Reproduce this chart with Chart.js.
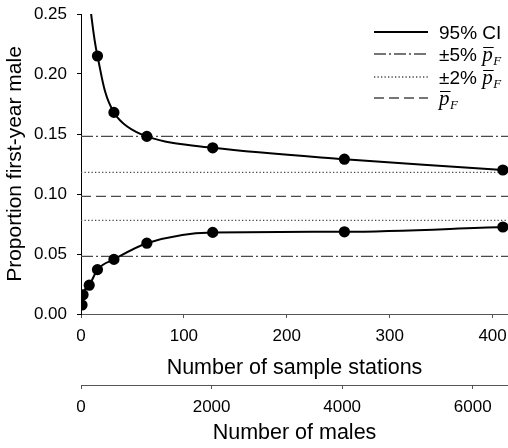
<!DOCTYPE html>
<html>
<head>
<meta charset="utf-8">
<script src="https://cdn.jsdelivr.net/npm/chart.js@4/dist/chart.umd.min.js"></script>
<style>
  html, body { margin: 0; padding: 0; background: #fff; }
  #wrap { width: 508px; height: 448px; }
</style>
</head>
<body>
<div id="wrap"><canvas id="c" width="508" height="448"></canvas></div>
<script>
// ---- data ----
const upperStations = [8, 16, 32, 64, 128, 256, 410];
const upperCI = [0.262, 0.215, 0.168, 0.148, 0.1385, 0.129, 0.120];
const lowerStations = [1, 2, 8, 16, 32, 64, 128, 256, 410];
const lowerCI = [0.0075, 0.016, 0.024, 0.037, 0.0455, 0.059, 0.068, 0.0685, 0.0725];
const meanP = 0.098;
const plus5Levels = [0.048, 0.148];
const plus2Levels = [0.078, 0.118];
const yTicks = [0, 0.05, 0.10, 0.15, 0.20, 0.25];
const stationTicks = [0, 100, 200, 300, 400];
const maleTicks = [0, 2000, 4000, 6000];
const legendPrefix = ['95% CI', '\u00b15% ', '\u00b12% ', ''];

const X_MAX = 415, X2_MAX = 6540;
const refColor = '#4a4a4a';

function toXY(xs, ys) { return xs.map((x, i) => ({ x: x, y: ys[i] })); }
function hline(y) { return [{ x: 0, y: y }, { x: X_MAX, y: y }]; }

const refStyle = { borderColor: refColor, borderWidth: 1.3, pointRadius: 0, fill: false, tension: 0 };
const ciStyle = {
  borderColor: '#000', borderWidth: 2, backgroundColor: '#000',
  pointBackgroundColor: '#000', pointBorderColor: '#000',
  pointRadius: ctx => (ctx.parsed && ctx.parsed.y > 0.25 ? 0 : 4.6),
  pointHoverRadius: 4.6,
  fill: false
};

const datasets = [
  Object.assign({ label: 'upper', data: toXY(upperStations, upperCI), tension: 0.35 }, ciStyle),
  Object.assign({ label: 'lower', data: toXY(lowerStations, lowerCI), cubicInterpolationMode: 'monotone' }, ciStyle),
  Object.assign({ label: 'mean', data: hline(meanP), borderDash: [10, 5] }, refStyle),
].concat(plus5Levels.map(v => Object.assign({ label: '5', data: hline(v), borderDash: [12, 3, 2, 3] }, refStyle)))
 .concat(plus2Levels.map(v => Object.assign({ label: '2', data: hline(v), borderDash: [1.3, 2.2] }, refStyle)));

const legendPlugin = {
  id: 'customLegend',
  afterDraw(chart) {
    const ctx = chart.ctx;
    const rows = [32, 54, 77, 98];
    const x0 = 374, x1 = 428, tx = 439;
    const dashes = [[], [12, 3, 2, 3], [1.3, 2.2], [10, 5]];
    ctx.save();
    rows.forEach((y, i) => {
      ctx.beginPath();
      ctx.setLineDash(dashes[i]);
      ctx.strokeStyle = i === 0 ? '#000' : refColor;
      ctx.lineWidth = i === 0 ? 2 : 1.3;
      ctx.moveTo(x0, y); ctx.lineTo(x1, y); ctx.stroke();
      ctx.setLineDash([]);
      ctx.fillStyle = '#000';
      ctx.textBaseline = 'alphabetic';
      ctx.font = '19px "Liberation Sans", Arial, sans-serif';
      const base = y + 7;
      let cx = tx;
      ctx.fillText(legendPrefix[i], cx, base);
      cx += ctx.measureText(legendPrefix[i]).width;
      if (i > 0) {
        ctx.font = 'italic 21px "Liberation Serif", "Times New Roman", serif';
        const pw = ctx.measureText('p').width;
        ctx.fillText('p', cx, base);
        ctx.beginPath();
        ctx.lineWidth = 1;
        ctx.strokeStyle = '#000';
        ctx.moveTo(cx + 1, base - 13.5); ctx.lineTo(cx + pw + 1, base - 13.5); ctx.stroke();
        cx += pw;
        ctx.font = 'italic 13px "Liberation Serif", "Times New Roman", serif';
        ctx.fillText('F', cx + 0.5, base + 4);
      }
    });
    ctx.restore();
  }
};

const tickFont = { family: '"Liberation Sans", Arial, sans-serif', size: 17 };
const titleFont = { family: '"Liberation Sans", Arial, sans-serif', size: 21.5 };
const yTitleFont = { family: '"Liberation Sans", Arial, sans-serif', size: 21 };

function fixH(h) {
  return s => { s.height = h; s.paddingLeft = 0; s.paddingRight = 0; };
}

new Chart(document.getElementById('c'), {
  type: 'line',
  data: { datasets: datasets },
  options: {
    responsive: false,
    animation: false,
    events: [],
    layout: { autoPadding: false, padding: { top: 14, right: 0, left: 0, bottom: 0 } },
    plugins: { legend: { display: false }, tooltip: { enabled: false } },
    scales: {
      x: {
        type: 'linear', position: 'bottom', weight: 0, min: 0, max: X_MAX,
        afterBuildTicks: s => { s.ticks = stationTicks.map(v => ({ value: v })); },
        afterFit: fixH(71),
        ticks: { font: tickFont, color: '#000', padding: 8, maxRotation: 0, callback: v => String(v) },
        grid: { drawOnChartArea: false, drawTicks: true, tickLength: 4, tickColor: '#555' },
        border: { display: true, color: '#555', width: 1 },
        title: { display: true, text: 'Number of sample stations', font: titleFont, color: '#000', padding: { top: 0, bottom: 4 } }
      },
      x2: {
        type: 'linear', position: 'bottom', weight: 1, min: 0, max: X2_MAX,
        afterBuildTicks: s => { s.ticks = maleTicks.map(v => ({ value: v })); },
        afterFit: fixH(63),
        ticks: { font: tickFont, color: '#000', padding: 8, maxRotation: 0, callback: v => String(v) },
        grid: { drawOnChartArea: false, drawTicks: true, tickLength: 4, tickColor: '#555' },
        border: { display: true, color: '#555', width: 1 },
        title: { display: true, text: 'Number of males', font: titleFont, color: '#000', padding: { top: 0, bottom: 2 } }
      },
      y: {
        type: 'linear', position: 'left', min: 0, max: 0.25,
        afterBuildTicks: s => { s.ticks = yTicks.map(v => ({ value: v })); },
        afterFit: s => { s.width = 81; s.paddingTop = 0; s.paddingBottom = 0; },
        ticks: { font: tickFont, color: '#000', padding: 10, callback: v => Number(v).toFixed(2) },
        grid: { drawOnChartArea: false, drawTicks: true, tickLength: 4, tickColor: '#000' },
        border: { display: true, color: '#000', width: 1 },
        title: { display: true, text: 'Proportion first-year male', font: yTitleFont, color: '#000', padding: { top: 3, bottom: 0 } }
      }
    }
  },
  plugins: [legendPlugin]
});
</script>
</body>
</html>
